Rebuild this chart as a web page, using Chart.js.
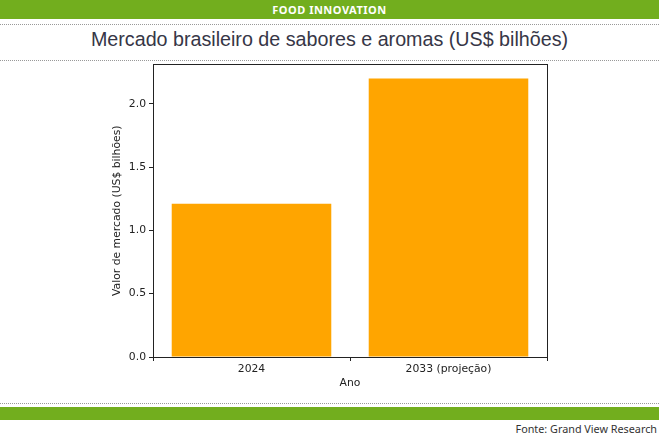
<!DOCTYPE html>
<html>
<head>
<meta charset="utf-8">
<script src="https://cdn.jsdelivr.net/npm/chart.js@4"></script>
<style>
  body { margin: 0; width: 659px; height: 436px; background: #fff; position: relative; overflow: hidden; }
  #top { position: absolute; left: 0; top: 0; width: 659px; height: 19px; background: #72ae1e;
         color: #fff; font: bold 11px "Noto Sans", sans-serif; text-align: center; line-height: 19px; letter-spacing: 0.5px; }
  .dots { position: absolute; left: 0; width: 659px; border-top: 1px dotted #999; }
  #title { position: absolute; left: 0; top: 28px; width: 659px; text-align: center;
           font: 19.7px "Liberation Sans", Arial, sans-serif; color: #363646; }
  #bottom { position: absolute; left: 0; top: 407px; width: 659px; height: 13px; background: #72ae1e; }
  #src { position: absolute; right: 2px; top: 421px; font: 10.8px "Noto Sans", sans-serif; color: #333; }
  #wrap { position: absolute; left: 0; top: 55px; width: 659px; height: 345px; }
</style>
</head>
<body>
<div id="top">FOOD INNOVATION</div>
<div class="dots" style="top:24px"></div>
<div id="title">Mercado brasileiro de sabores e aromas (US$ bilhões)</div>
<div class="dots" style="top:60px"></div>
<div id="wrap"><canvas id="myChart"></canvas></div>
<div class="dots" style="top:403px"></div>
<div id="bottom"></div>
<div id="src">Fonte: Grand View Research</div>
<script>
// data
const years = ['2024', '2033 (projeção)'];
const marketValue = [1.21, 2.2];
const yTicks = [0, 0.5, 1.0, 1.5, 2.0];

// frame round the plot area, like matplotlib
const frame = {
  id: 'frame',
  afterDatasetsDraw(chart) {
    const a = chart.chartArea;
    const ctx = chart.ctx;
    ctx.save();
    ctx.strokeStyle = '#222';
    ctx.lineWidth = 1;
    ctx.strokeRect(Math.round(a.left) + 0.5, Math.round(a.top) + 0.5, Math.round(a.right - a.left), Math.round(a.bottom - a.top));
    ctx.restore();
  }
};

const font = { family: 'DejaVu Sans', size: 10.8 };

new Chart(document.getElementById('myChart').getContext('2d'), {
  type: 'bar',
  data: {
    labels: years,
    datasets: [{
      data: marketValue,
      backgroundColor: '#ffa500',
      barPercentage: 0.81,
      categoryPercentage: 1.0
    }]
  },
  options: {
    responsive: true,
    maintainAspectRatio: false,
    animation: false,
    layout: { padding: { left: 107, right: 112, top: 9, bottom: 6 } },
    plugins: { legend: { display: false }, tooltip: { enabled: false } },
    scales: {
      x: {
        grid: { drawOnChartArea: false, tickLength: 4, color: '#222' },
        border: { display: false },
        ticks: { color: '#222', font: font, padding: 2 },
        title: { display: true, text: 'Ano', color: '#222', font: font, padding: { top: 2, bottom: 4 } },
        afterFit(s) { s.height = 37; }
      },
      y: {
        min: 0,
        max: 2.31,
        grid: { drawOnChartArea: false, tickLength: 4, color: '#222' },
        border: { display: false },
        afterBuildTicks(s) { s.ticks = yTicks.map(v => ({ value: v })); },
        ticks: { color: '#222', font: font, padding: 3, callback: v => v.toFixed(1) },
        title: { display: true, text: 'Valor de mercado (US$ bilhões)', color: '#222', font: font, padding: 4 },
        afterFit(s) { s.width = 46; }
      }
    }
  },
  plugins: [frame]
});
</script>
</body>
</html>
